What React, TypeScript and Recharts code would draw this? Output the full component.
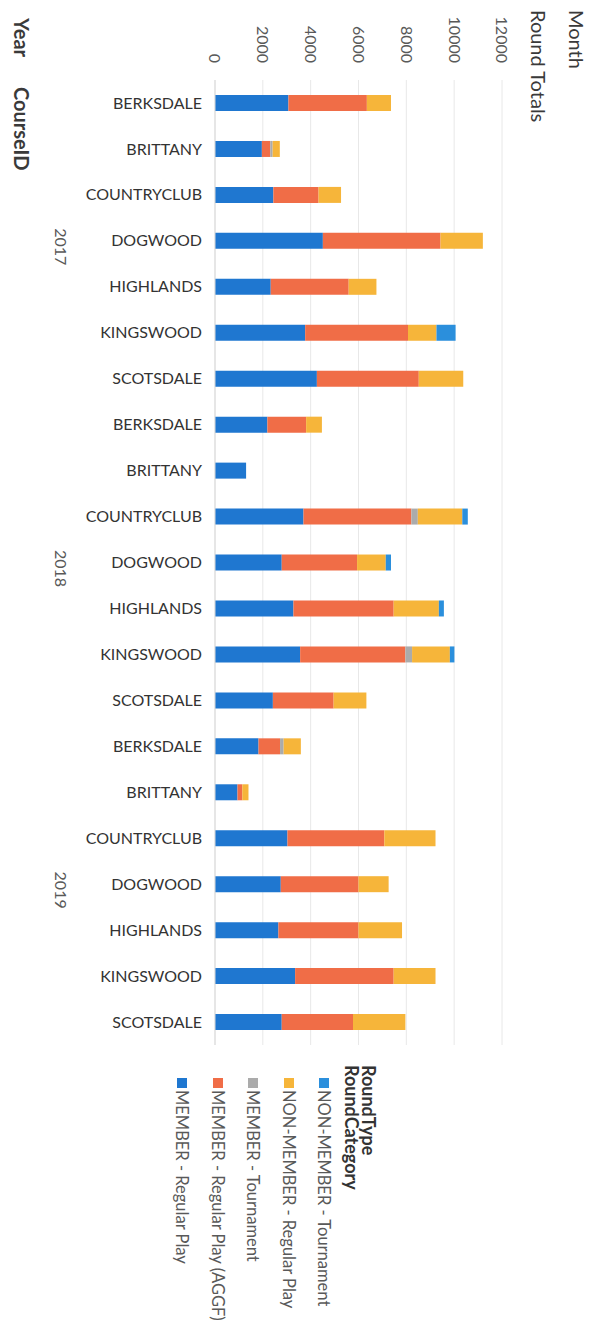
import { Bar, BarChart, CartesianGrid, XAxis, YAxis } from 'recharts'

// chart is drawn landscape and then turned a quarter turn clockwise
const CHART_W = 1336
const CHART_H = 597

const years = ['2017', '2018', '2019']
const courses = ['BERKSDALE', 'BRITTANY', 'COUNTRYCLUB', 'DOGWOOD', 'HIGHLANDS', 'KINGSWOOD', 'SCOTSDALE']
const valueTicks = [0, 2000, 4000, 6000, 8000, 10000, 12000]

// one value per year/course, in the order 2017 x courses, 2018 x courses, 2019 x courses
const memberRegular = [3070, 1960, 2440, 4510, 2330, 3770, 4260, 2190, 1300, 3700, 2790, 3280, 3560, 2420, 1820, 940, 3030, 2750, 2650, 3350, 2790]
const memberAggf = [3280, 350, 1890, 4920, 3260, 4300, 4260, 1620, 0, 4510, 3150, 4190, 4400, 2540, 900, 200, 4050, 3250, 3350, 4120, 2980]
const memberTournament = [0, 100, 0, 0, 0, 0, 0, 0, 0, 270, 0, 0, 280, 0, 150, 0, 0, 0, 0, 0, 0]
const nonMemberRegular = [1010, 300, 940, 1770, 1160, 1190, 1860, 660, 0, 1860, 1200, 1890, 1580, 1370, 720, 260, 2140, 1260, 1820, 1750, 2190]
const nonMemberTournament = [0, 0, 0, 0, 0, 800, 0, 0, 0, 230, 220, 210, 190, 0, 0, 0, 0, 0, 0, 0, 0]

const series = [
  { key: 'memberRegular', name: 'MEMBER - Regular Play', color: '#1f77d0', values: memberRegular },
  { key: 'memberAggf', name: 'MEMBER - Regular Play (AGGF)', color: '#f06d47', values: memberAggf },
  { key: 'memberTournament', name: 'MEMBER - Tournament', color: '#ababab', values: memberTournament },
  { key: 'nonMemberRegular', name: 'NON-MEMBER - Regular Play', color: '#f6b53a', values: nonMemberRegular },
  { key: 'nonMemberTournament', name: 'NON-MEMBER - Tournament', color: '#2b8fdc', values: nonMemberTournament },
]

const data = years.flatMap((year, yi) =>
  courses.map((course, ci) => {
    const i = yi * courses.length + ci
    const row: Record<string, string | number> = { key: `${year}-${course}`, year, course }
    series.forEach((s) => {
      row[s.key] = s.values[i]
    })
    return row
  }),
)

function CourseTick(props: any) {
  const { x, y, payload } = props
  const row = data[payload.index]
  if (!row) return null
  const band = (payload.offset ?? 23) * 2
  const groupRows = data.filter((d) => d.year === row.year)
  const isFirst = data.findIndex((d) => d.year === row.year) === payload.index
  return (
    <g>
      <text
        transform={`translate(${x},${y}) rotate(-90)`}
        x={-13}
        dy="0.35em"
        textAnchor="end"
        fontSize={16}
        fill="#333"
      >
        {row.course}
      </text>
      {isFirst ? (
        <text
          x={x + ((groupRows.length - 1) * band) / 2 + 6}
          y={y + 154}
          dy="0.35em"
          textAnchor="middle"
          fontSize={16}
          fill="#595959"
        >
          {row.year}
        </text>
      ) : null}
    </g>
  )
}

const fieldStyle = {
  position: 'absolute' as const,
  fontSize: 20,
  color: '#3a3a3a',
  whiteSpace: 'nowrap' as const,
  lineHeight: '24px',
}

export default function App() {
  return (
    <div
      style={{
        position: 'absolute',
        left: 0,
        top: 0,
        width: CHART_H,
        height: CHART_W,
        overflow: 'hidden',
        background: '#fff',
        fontFamily: 'Lato, sans-serif',
      }}
    >
      <div
        style={{
          position: 'absolute',
          left: 0,
          top: 0,
          width: CHART_W,
          height: CHART_H,
          transformOrigin: '0 0',
          transform: `translate(${CHART_H}px, 0) rotate(90deg)`,
        }}
      >
        <div style={{ ...fieldStyle, left: 10, top: 8 }}>Month</div>
        <div style={{ ...fieldStyle, left: 10, top: 46 }}>Round Totals</div>
        <div style={{ ...fieldStyle, left: 18, top: 563, fontWeight: 700 }}>Year</div>
        <div style={{ ...fieldStyle, left: 87, top: 563, fontWeight: 700 }}>CourseID</div>

        <BarChart
          width={CHART_W}
          height={CHART_H}
          data={data}
          margin={{ top: 95, right: 291, bottom: 35, left: 0 }}
        >
          <CartesianGrid vertical={false} stroke="#e8e8e8" />
          <XAxis
            dataKey="key"
            interval={0}
            height={180}
            tickSize={0}
            tickMargin={0}
            tickLine={false}
            axisLine={{ stroke: '#d9d9d9' }}
            tick={<CourseTick />}
          />
          <YAxis
            type="number"
            domain={[0, 12000]}
            ticks={valueTicks}
            width={80}
            tickSize={0}
            tickMargin={17}
            axisLine={false}
            tickLine={false}
            tick={{ fontSize: 16, fill: '#595959' }}
          />
          {series.map((s) => (
            <Bar
              key={s.key}
              dataKey={s.key}
              name={s.name}
              stackId="rounds"
              fill={s.color}
              barSize={16}
              isAnimationActive={false}
            />
          ))}
        </BarChart>

        <div style={{ position: 'absolute', left: 1065, top: 220, whiteSpace: 'nowrap' }}>
          <div style={{ fontSize: 18, fontWeight: 700, color: '#333', lineHeight: '17px' }}>RoundType</div>
          <div style={{ fontSize: 18, fontWeight: 700, color: '#333', lineHeight: '17px' }}>RoundCategory</div>
          <div style={{ marginTop: 1 }}>
            {[...series].reverse().map((s) => (
              <div
                key={s.key}
                style={{ display: 'flex', alignItems: 'center', height: 35.5, marginLeft: 13 }}
              >
                <span style={{ width: 10, height: 10, background: s.color, marginRight: 2 }} />
                <span style={{ fontSize: 16.5, color: '#595959' }}>{s.name}</span>
              </div>
            ))}
          </div>
        </div>
      </div>
    </div>
  )
}
